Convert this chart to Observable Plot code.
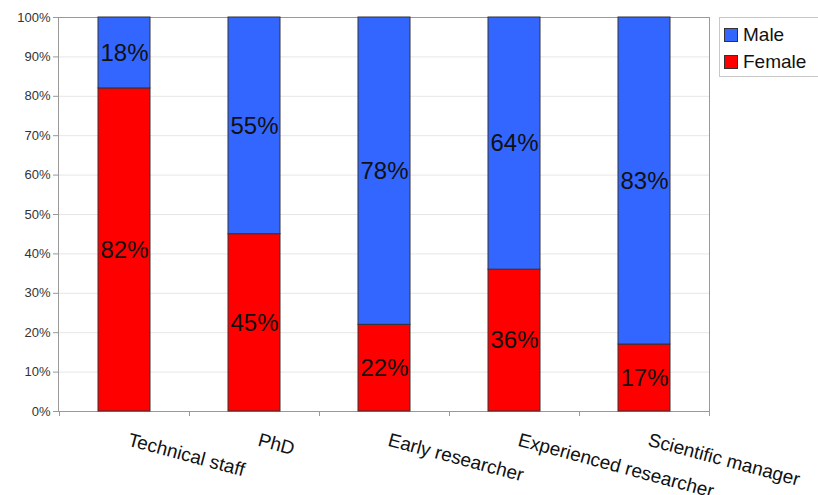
<!DOCTYPE html>
<html>
<head>
<meta charset="utf-8">
<script src="https://cdn.jsdelivr.net/npm/d3@7"></script>
<script src="https://cdn.jsdelivr.net/npm/@observablehq/plot@0.6"></script>
<style>
  html, body { margin: 0; padding: 0; background: #fff; }
  #wrap { position: relative; width: 818px; height: 495px; overflow: hidden; font-family: "Liberation Sans", Arial, sans-serif; }
  #legend { position: absolute; left: 719px; top: 17px; width: 110px; height: 60px; border: 1px solid #c8c8c8; box-sizing: border-box; padding: 3px 0 0 4px; }
  .li { display: flex; align-items: center; font-size: 19px; color: #111; height: 27px; }
  .sw { width: 12px; height: 12px; border: 1px solid #333; margin-right: 5px; }
</style>
</head>
<body>
<div id="wrap"><div id="legend"></div></div>
<script>
const categories = ["Technical staff", "PhD", "Early researcher", "Experienced researcher", "Scientific manager"];
const femaleValues = [82, 45, 22, 36, 17];
const maleValues = [18, 55, 78, 64, 83];
const seriesNames = ["Female", "Male"];
const seriesColors = ["#ff0000", "#3366ff"];
const yTicks = [0, 10, 20, 30, 40, 50, 60, 70, 80, 90, 100];

const data = [];
categories.forEach((c, i) => {
  data.push({cat: c, sex: "Female", value: femaleValues[i]});
  data.push({cat: c, sex: "Male", value: maleValues[i]});
});

const chart = Plot.plot({
  width: 818,
  height: 495,
  marginLeft: 58,
  marginRight: 109,
  marginTop: 17,
  marginBottom: 84,
  style: {fontFamily: "Liberation Sans, Arial, sans-serif", background: "#fff"},
  x: {domain: categories, paddingInner: 0.6, paddingOuter: 0.3, label: null},
  y: {domain: [0, 100], label: null},
  color: {domain: seriesNames, range: seriesColors},
  marks: [
    Plot.gridY(yTicks, {stroke: "#e6e6e6", strokeOpacity: 1}),
    Plot.frame({stroke: "#999"}),
    Plot.barY(data, Plot.stackY({x: "cat", y: "value", z: "sex", fill: "sex", order: seriesNames, stroke: "#333", strokeWidth: 1})),
    Plot.text(data, Plot.stackY({x: "cat", y: "value", z: "sex", order: seriesNames, text: d => d.value + "%", fontSize: 24, fill: "#111"})),
    Plot.axisY(yTicks, {tickFormat: d => d + "%", fontSize: 13, fill: "#333", stroke: "#999", tickSize: 5, tickPadding: 3}),
    Plot.ruleX(categories, {x: d => d, dx: -65, y1: 0, y2: 0, insetBottom: -5, stroke: "#999"}),
    Plot.ruleX(categories.slice(-1), {x: d => d, dx: 65, y1: 0, y2: 0, insetBottom: -5, stroke: "#999"}),
    Plot.axisX({tickSize: 0, tickPadding: 28, tickRotate: 15, fontSize: 19, fill: "#111", textAnchor: "start", dx: 4})
  ]
});
document.getElementById("wrap").prepend(chart);

const legend = document.getElementById("legend");
["Male", "Female"].forEach(n => {
  const row = document.createElement("div");
  row.className = "li";
  const sw = document.createElement("div");
  sw.className = "sw";
  sw.style.background = seriesColors[seriesNames.indexOf(n)];
  row.appendChild(sw);
  row.appendChild(document.createTextNode(n));
  legend.appendChild(row);
});
</script>
</body>
</html>
